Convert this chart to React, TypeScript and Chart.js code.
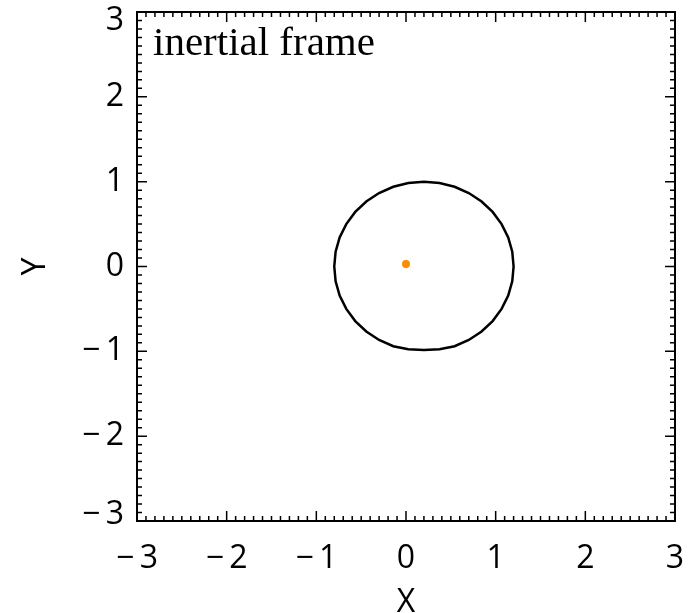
import React, { useEffect, useRef } from "react";
import { Chart, registerables } from "chart.js";

Chart.register(...registerables);

// Orbit (black curve): centre ~(0.2, 0), radius ~1
const orbitX = [1.2, 1.185, 1.14, 1.066, 0.966, 0.843, 0.7, 0.542, 0.374, 0.2, 0.026, -0.142, -0.3, -0.443, -0.566, -0.666, -0.74, -0.785, -0.8, -0.785, -0.74, -0.666, -0.566, -0.443, -0.3, -0.142, 0.026, 0.2, 0.374, 0.542, 0.7, 0.843, 0.966, 1.066, 1.14, 1.185, 1.2];
const orbitY = [0, 0.174, 0.342, 0.5, 0.643, 0.766, 0.866, 0.94, 0.985, 1.0, 0.985, 0.94, 0.866, 0.766, 0.643, 0.5, 0.342, 0.174, 0, -0.174, -0.342, -0.5, -0.643, -0.766, -0.866, -0.94, -0.975, -0.985, -0.975, -0.94, -0.866, -0.766, -0.643, -0.5, -0.342, -0.174, 0];
// Central body (orange dot)
const starX = [0.0];
const starY = [0.03];

const majorTicks = [-3, -2, -1, 0, 1, 2, 3];
const minorPerMajor = 10;
const axisMin = -3;
const axisMax = 3;
const titleText = "inertial frame";
const xTitle = "X";
const yTitle = "Y";

const FONT_FAMILY = "'Open Sans', 'Noto Sans', sans-serif";
const tickFont = { family: FONT_FAMILY, size: 32, lineHeight: 1 };

const fmt = (v: any) => (Number(v) < 0 ? "\u2212\u2009" + Math.abs(Number(v)) : String(v));

const framePlugin = {
  id: "idlFrame",
  afterDatasetsDraw(chart: any) {
    const { ctx, chartArea } = chart;
    const xs = chart.scales.x;
    const ys = chart.scales.y;
    const { left, right, top, bottom } = chartArea;
    ctx.save();
    ctx.strokeStyle = "#000";
    ctx.lineWidth = 2;
    ctx.strokeRect(left, top, right - left, bottom - top);
    ctx.lineWidth = 1.5;
    ctx.beginPath();
    for (let i = 0; i < majorTicks.length; i++) {
      const v0 = majorTicks[i];
      for (let k = 0; k < minorPerMajor; k++) {
        if (i === majorTicks.length - 1 && k > 0) break;
        const step = i < majorTicks.length - 1 ? (majorTicks[i + 1] - v0) / minorPerMajor : 0;
        const v = v0 + k * step;
        const len = k === 0 ? 10 : 5;
        const px = xs.getPixelForValue(v);
        const py = ys.getPixelForValue(v);
        ctx.moveTo(px, bottom);
        ctx.lineTo(px, bottom - len);
        ctx.moveTo(px, top);
        ctx.lineTo(px, top + len);
        ctx.moveTo(left, py);
        ctx.lineTo(left + len, py);
        ctx.moveTo(right, py);
        ctx.lineTo(right - len, py);
      }
    }
    ctx.stroke();

    // y tick labels (end labels nudged inside, as in the reference)
    ctx.fillStyle = "#000";
    ctx.font = `${tickFont.size}px ${FONT_FAMILY}`;
    ctx.textAlign = "right";
    ctx.textBaseline = "middle";
    majorTicks.forEach((v) => {
      let py = ys.getPixelForValue(v);
      py = Math.min(Math.max(py, top + 9), bottom - 6);
      ctx.fillText(fmt(v), left - 13, py);
    });

    ctx.font = "41px 'Liberation Serif', 'DejaVu Serif', serif";
    ctx.textAlign = "left";
    ctx.textBaseline = "alphabetic";
    ctx.fillText(titleText, left + 16, top + 43);
    ctx.restore();
  },
};

export default function App() {
  const ref = useRef<HTMLCanvasElement | null>(null);
  useEffect(() => {
    if (!ref.current) return;
    const orbit = orbitX.map((x, i) => ({ x, y: orbitY[i] }));
    const star = starX.map((x, i) => ({ x, y: starY[i] }));
    const chart = new Chart(ref.current, {
      type: "scatter",
      data: {
        datasets: [
          {
            data: orbit,
            showLine: true,
            borderColor: "#000",
            borderWidth: 2.5,
            pointRadius: 0,
            tension: 0,
            fill: false,
          },
          {
            data: star,
            pointRadius: 4,
            pointBackgroundColor: "#ff8c00",
            pointBorderWidth: 0,
            borderColor: "#ff8c00",
          },
        ],
      },
      options: {
        animation: false,
        responsive: false,
        maintainAspectRatio: false,
        layout: { padding: { top: 12, right: 21, left: 0, bottom: 0 } },
        plugins: { legend: { display: false }, tooltip: { enabled: false } },
        scales: {
          x: {
            type: "linear",
            min: axisMin,
            max: axisMax,
            afterFit: (s: any) => {
              s.height = 92;
              s.paddingLeft = 0;
              s.paddingRight = 0;
              s.paddingTop = 0;
              s.paddingBottom = 0;
            },
            afterBuildTicks: (s: any) => {
              s.ticks = majorTicks.map((v) => ({ value: v }));
            },
            grid: { display: false, drawTicks: false },
            border: { display: false },
            ticks: { padding: 22, color: "#000", font: tickFont, callback: fmt, maxRotation: 0, autoSkip: false },
            title: { display: true, text: xTitle, color: "#000", font: tickFont, padding: { top: 0, bottom: -6 } },
          },
          y: {
            type: "linear",
            min: axisMin,
            max: axisMax,
            afterFit: (s: any) => {
              s.width = 137;
              s.paddingLeft = 0;
              s.paddingRight = 0;
              s.paddingTop = 0;
              s.paddingBottom = 0;
            },
            afterBuildTicks: (s: any) => {
              s.ticks = majorTicks.map((v) => ({ value: v }));
            },
            grid: { display: false, drawTicks: false },
            border: { display: false },
            ticks: { display: false },
            title: { display: true, text: yTitle, color: "#000", font: tickFont, padding: { top: 20, bottom: 0 } },
          },
        },
      },
      plugins: [framePlugin],
    });
    return () => chart.destroy();
  }, []);
  return (
    <div style={{ position: "absolute", left: 0, top: 0, width: 696, height: 613, background: "#fff" }}>
      <canvas ref={ref} width={696} height={613} style={{ display: "block" }} />
    </div>
  );
}
